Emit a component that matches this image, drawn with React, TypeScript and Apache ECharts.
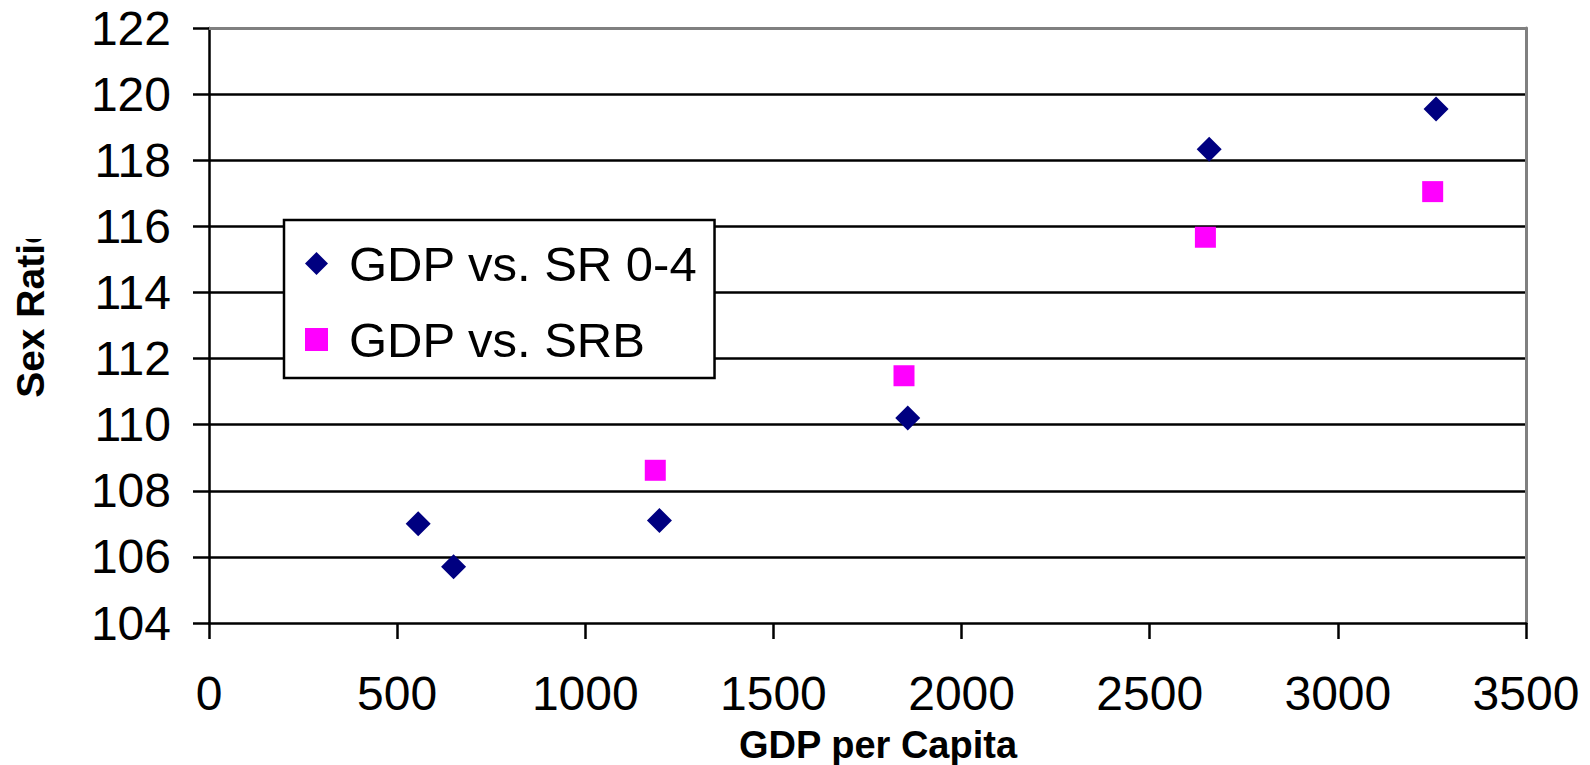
import React, { useEffect, useRef } from "react";
import * as echarts from "echarts";

const xTicks = { min: 0, max: 3500, interval: 500 };
const yTicks = { min: 104, max: 122, interval: 2 };

const seriesNames = ["GDP vs. SR 0-4", "GDP vs. SRB"];

// [GDP per capita, sex ratio]
const sr04: number[][] = [
  [556, 107.0],
  [650, 105.7],
  [1197, 107.1],
  [1857, 110.2],
  [2658, 118.33],
  [3261, 119.55],
];
const srb: number[][] = [
  [1186, 108.62],
  [1847, 111.48],
  [2648, 115.67],
  [3252, 117.05],
];

const xTitle = "GDP per Capita";
const yTitle = "Sex Ratio";

const FONT = "'Liberation Sans', Arial, sans-serif";

export default function App() {
  const ref = useRef<HTMLDivElement>(null);
  useEffect(() => {
    if (!ref.current) return;
    const chart = echarts.init(ref.current, undefined, { renderer: "svg" });
    chart.setOption({
      animation: false,
      backgroundColor: "#ffffff",
      textStyle: { fontFamily: FONT },
      grid: { left: 209, right: 64, top: 28, bottom: 142, containLabel: false },
      legend: {
        orient: "vertical",
        left: 284,
        top: 220,
        padding: [19, 17, 14, 21],
        itemGap: 27,
        itemWidth: 23,
        itemHeight: 23,
        itemTextGap: 4,
        backgroundColor: "#ffffff",
        borderColor: "#000000",
        borderWidth: 2.5,
        borderRadius: 0,
        textStyle: { fontSize: 49, color: "#000", fontFamily: FONT, padding: [0, 0, 0, 16] },
        data: seriesNames,
        z: 10,
      },
      xAxis: [
        {
          type: "value",
          min: xTicks.min,
          max: xTicks.max,
          interval: xTicks.interval,
          position: "bottom",
          axisLine: { show: true, onZero: false, lineStyle: { color: "#000", width: 2.5 } },
          axisTick: { show: true, inside: false, length: 16, lineStyle: { color: "#000", width: 2.5 } },
          axisLabel: {
            fontSize: 48,
            color: "#000",
            margin: 46,
            fontFamily: FONT,
            formatter: (v: number) => String(v),
          },
          splitLine: { show: false },
        },
        {
          type: "value",
          min: xTicks.min,
          max: xTicks.max,
          interval: xTicks.interval,
          position: "top",
          axisLine: { show: true, onZero: false, lineStyle: { color: "#808080", width: 3 } },
          axisTick: { show: false },
          axisLabel: { show: false },
          splitLine: { show: false },
        },
      ],
      yAxis: [
        {
          type: "value",
          min: yTicks.min,
          max: yTicks.max,
          interval: yTicks.interval,
          position: "left",
          axisLine: { show: true, onZero: false, lineStyle: { color: "#000", width: 2.5 } },
          axisTick: { show: true, inside: false, length: 16, lineStyle: { color: "#000", width: 2.5 } },
          axisLabel: {
            fontSize: 48,
            color: "#000",
            margin: 38,
            fontFamily: FONT,
            formatter: (v: number) => String(v),
          },
          splitLine: {
            show: true,
            showMinLine: false,
            showMaxLine: false,
            lineStyle: { color: "#000", width: 2.5 },
          },
        },
        {
          type: "value",
          min: yTicks.min,
          max: yTicks.max,
          interval: yTicks.interval,
          position: "right",
          axisLine: { show: true, onZero: false, lineStyle: { color: "#808080", width: 3 } },
          axisTick: { show: false },
          axisLabel: { show: false },
          splitLine: { show: false },
        },
      ],
      series: [
        {
          name: seriesNames[0],
          type: "scatter",
          symbol: "diamond",
          symbolSize: 25,
          itemStyle: { color: "#000080", opacity: 1 },
          data: sr04,
          z: 5,
        },
        {
          name: seriesNames[1],
          type: "scatter",
          symbol: "rect",
          symbolSize: 21,
          itemStyle: { color: "#FF00FF", opacity: 1 },
          data: srb,
          z: 5,
        },
      ],
      graphic: [
        {
          type: "text",
          x: 878,
          y: 745,
          style: {
            text: xTitle,
            font: `bold 38px ${FONT}`,
            fill: "#000",
            align: "center",
            verticalAlign: "middle",
          },
        },
        {
          type: "text",
          x: 30,
          y: 309,
          rotation: Math.PI / 2,
          style: {
            text: yTitle,
            font: `bold 39px ${FONT}`,
            fill: "#000",
            align: "center",
            verticalAlign: "middle",
          },
          z: 1,
        },
        {
          type: "rect",
          shape: { x: 0, y: 150, width: 62, height: 89 },
          style: { fill: "#ffffff" },
          z: 2,
        },
      ],
    });
    return () => chart.dispose();
  }, []);
  return (
    <div
      ref={ref}
      style={{ position: "fixed", left: 0, top: 0, width: 1590, height: 765 }}
    />
  );
}
